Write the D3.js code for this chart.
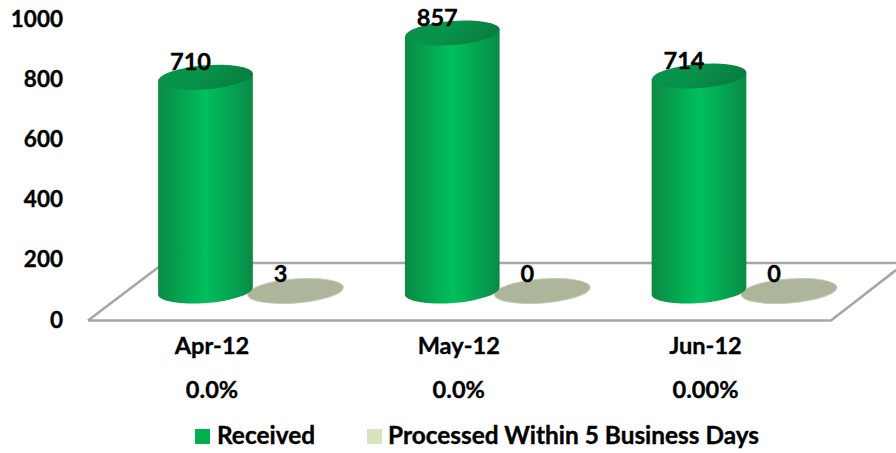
<!DOCTYPE html>
<html><head><meta charset="utf-8">
<script src="https://cdn.jsdelivr.net/npm/d3@7/dist/d3.min.js"></script>
<style>html,body{margin:0;padding:0;background:#fff}svg{display:block}text{font-family:Lato,"Open Sans",sans-serif;font-weight:700;fill:#000;stroke:#000;stroke-width:.35px}</style>
</head><body><svg id="c" width="896" height="453"></svg>
<script>
const categories = ["Apr-12","May-12","Jun-12"];
const received = [710,857,714];
const processed = [3,0,0];
const percents = ["0.0%","0.0%","0.00%"];
const yTicks = [0,200,400,600,800,1000];
const legendLabels = ["Received","Processed Within 5 Business Days"];
const colors = {received:"#00b050", processed:"#d7e4bd"};

const svg = d3.select("#c");
const FS = 22.5, FSX = 23.6, FSL = 24.4;
const y = d3.scaleLinear().domain([0,1000]).range([319,18]);
const depth = 28;
const x = d3.scalePoint().domain(categories).range([205.5,699]);
const rx = 47.5, ry = 12, tilt = -4.5, flatOff = 90;

const defs = svg.append("defs");
const bodyG = defs.append("linearGradient").attr("id","body");
[[0,"#0b8a43"],[0.2,"#069f4e"],[0.5,"#00bf5c"],[0.8,"#05a150"],[1,"#0a8a45"]].forEach(s=>bodyG.append("stop").attr("offset",s[0]).attr("stop-color",s[1]));
const topG = defs.append("linearGradient").attr("id","top").attr("x1",0).attr("y1",0).attr("x2",1).attr("y2",0.3);
[[0,"#0a9149"],[0.5,"#08934b"],[1,"#077f40"]].forEach(s=>topG.append("stop").attr("offset",s[0]).attr("stop-color",s[1]));

// floor
const line = d3.line();
const stroke = sel => sel.attr("fill","none").attr("stroke","#a6a6a6").attr("stroke-width",2.6);
svg.append("path").attr("d",line([[88,320.5],[831,320.5],[896,270]])).call(stroke);
svg.append("path").attr("d",line([[88,320.5],[160,266]])).call(stroke);
svg.append("path").attr("d",line([[160,263],[896,263]])).call(stroke);

// axis
const axis = d3.axisLeft(y).tickValues(yTicks).tickSize(0).tickPadding(0).tickFormat(d3.format("d"));
const ag = svg.append("g").attr("transform","translate(63,0)").call(axis);
ag.select(".domain").remove();
ag.selectAll("text").attr("font-size",FS).attr("dy","0.36em");

// flat discs (processed)
categories.forEach((c,i)=>{
  const cx = x(c)+flatOff, base = y(0)-depth;
  svg.append("ellipse").attr("cx",cx).attr("cy",base).attr("rx",rx+0.5).attr("ry",ry)
    .attr("transform",`rotate(${tilt} ${cx} ${base})`).attr("fill","#adb59b").attr("stroke","#c4ccb2").attr("stroke-width",1);
});

// cylinders (received)
categories.forEach((c,i)=>{
  const cx = x(c), base = y(0)-depth, topY = y(received[i])-depth;
  const t = tilt*Math.PI/180;
  const dx = rx*Math.cos(t), dy = rx*Math.sin(t);
  const p = `M${cx-dx},${topY-dy} L${cx-dx},${base-dy} A${rx},${ry} ${tilt} 0 0 ${cx+dx},${base+dy} L${cx+dx},${topY+dy} Z`;
  svg.append("path").attr("d",p).attr("fill","url(#body)");
  svg.append("ellipse").attr("cx",cx).attr("cy",topY).attr("rx",rx).attr("ry",ry)
    .attr("transform",`rotate(${tilt} ${cx} ${topY})`).attr("fill","url(#top)");
});

// data labels
const lab = (xx,yy,t,fs,anchor="middle")=>svg.append("text").attr("x",xx).attr("y",yy).attr("text-anchor",anchor).attr("font-size",fs).text(t);
categories.forEach((c,i)=>{
  lab(x(c)-15, y(received[i])-depth-7, received[i], FSX);
  lab(x(c)+flatOff-15, 282, processed[i], FSX);
  lab(x(c)+6.5, 354, c, FSX);
  lab(x(c)+6.5, 398, percents[i], FSX);
});

// legend
const legendX = [[195,217],[367,388]];
legendLabels.forEach((t,i)=>{
  svg.append("rect").attr("x",legendX[i][0]).attr("y",429).attr("width",15).attr("height",15)
    .attr("fill",i?colors.processed:colors.received);
  lab(legendX[i][1],444,t,FSL,"start");
});
</script></body></html>
